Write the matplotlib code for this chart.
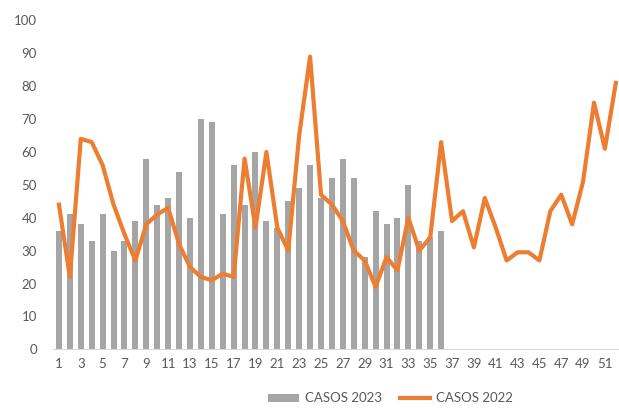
import matplotlib.pyplot as plt

# Weekly cases, 2023 (weeks 1-36) and 2022 (weeks 1-52)
weeks_2023 = list(range(1, 37))
casos_2023 = [36, 41, 38, 33, 41, 30, 33, 39, 58, 44, 46, 54, 40, 70, 69, 41,
              56, 44, 60, 39, 37, 45, 49, 56, 46, 52, 58, 52, 28, 42, 38, 40,
              50, 33, 34, 36]

weeks_2022 = list(range(1, 53))
casos_2022 = [44, 22, 64, 63, 56, 44, 35, 27, 38, 41, 43, 32, 25, 22, 21, 23,
              22, 58, 37, 60, 37, 30, 65, 89, 47, 44, 39, 30, 27, 19, 28, 24,
              40, 30, 34, 63, 39, 42, 31, 46, 37, 27, 29.5, 29.5, 27, 42, 47, 38,
              51, 75, 61, 81]

xticks = list(range(1, 53, 2))
yticks = list(range(0, 101, 10))

plt.rcParams['font.family'] = ['Lato', 'DejaVu Sans']

fig = plt.figure(figsize=(6.19, 4.08), dpi=100)
ax = fig.add_axes([0.0864, 0.1439, 0.9173, 0.806])

bars = ax.bar(weeks_2023, casos_2023, width=0.55, color='#a5a5a5', label='CASOS 2023', zorder=2)
line, = ax.plot(weeks_2022, casos_2022, color='#ed7d31', linewidth=3, label='CASOS 2022',
                solid_joinstyle='round', zorder=3)

ax.set_xlim(0.5, 52.5)
ax.set_ylim(0, 100)
ax.set_xticks(xticks)
ax.set_yticks(yticks)
ax.tick_params(axis='both', length=0, colors='#595959', labelsize=9.5)
ax.tick_params(axis='y', pad=12)
ax.tick_params(axis='x', pad=6)

for side in ['top', 'right', 'left']:
    ax.spines[side].set_visible(False)
ax.spines['bottom'].set_color('#d9d9d9')

ax.legend([bars, line], ['CASOS 2023', 'CASOS 2022'], loc='upper center',
          bbox_to_anchor=(0.594, -0.095), ncol=2, frameon=False,
          fontsize=9.5, labelcolor='#595959', handlelength=2.3, handleheight=0.55,
          columnspacing=1.4, handletextpad=0.45)

fig.savefig('out.png', dpi=100)
